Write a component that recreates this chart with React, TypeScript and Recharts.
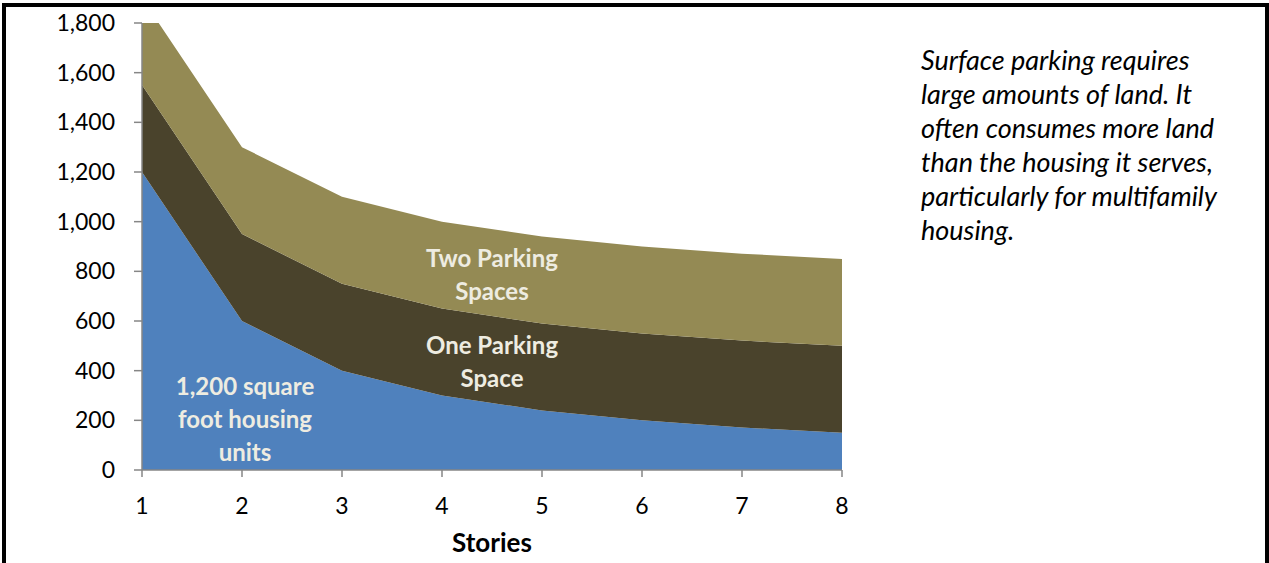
import { AreaChart, Area, XAxis, YAxis, ReferenceDot } from "recharts";

// land area per housing unit, by number of stories
const stories = [1, 2, 3, 4, 5, 6, 7, 8];
const housingUnit = [1200, 600, 400, 300, 240, 200, 171, 150];
const oneParking = [350, 350, 350, 350, 350, 350, 350, 350];
const twoParking = [350, 350, 350, 350, 350, 350, 350, 350];
const yTicks = [0, 200, 400, 600, 800, 1000, 1200, 1400, 1600, 1800];

const areaLabels = [
  { x: 4.5, y: 787, lines: ["Two Parking", "Spaces"] },
  { x: 4.5, y: 435, lines: ["One Parking", "Space"] },
  { x: 2.03, y: 205, lines: ["1,200 square", "foot housing", "units"] },
];

const noteLines = [
  "Surface parking requires",
  "large amounts of land. It",
  "often consumes more land",
  "than the housing it serves,",
  "particularly for multifamily",
  "housing.",
];

const data = stories.map((s, i) => ({
  stories: s,
  housing: housingUnit[i],
  one: oneParking[i],
  two: twoParking[i],
}));

const FONT = "Lato, 'Open Sans', sans-serif";
const AXIS = "#868686";

const MultiLine = (lines: string[]) => (props: any) => {
  const { viewBox } = props;
  const cx = viewBox.x + (viewBox.width || 0) / 2;
  const cy = viewBox.y + (viewBox.height || 0) / 2;
  const lh = 33;
  const top = cy - ((lines.length - 1) * lh) / 2;
  return (
    <text
      x={cx}
      textAnchor="middle"
      fill="#EEECE1"
      fontFamily={FONT}
      fontWeight={700}
      fontSize={24}
    >
      {lines.map((l, i) => (
        <tspan key={i} x={cx} y={top + i * lh} dy="0.36em">
          {l}
        </tspan>
      ))}
    </text>
  );
};

export default function App() {
  return (
    <div
      style={{
        position: "absolute",
        left: 0,
        top: 0,
        width: 1269,
        height: 563,
        overflow: "hidden",
        background: "#fff",
        fontFamily: FONT,
      }}
    >
      <div
        style={{
          position: "absolute",
          left: 2,
          top: 3,
          width: 1259,
          height: 600,
          borderLeft: "4px solid #000",
          borderTop: "4px solid #000",
          borderRight: "4px solid #000",
        }}
      />
      <div style={{ position: "absolute", left: 0, top: 0 }}>
        <AreaChart
          width={1269}
          height={563}
          data={data}
          margin={{ top: 23, right: 427, bottom: 0, left: 0 }}
        >
          <XAxis
            dataKey="stories"
            type="number"
            domain={[1, 8]}
            ticks={stories}
            height={93}
            stroke={AXIS}
            strokeWidth={1.5}
            tickSize={7}
            tickMargin={21}
            tick={{ fill: "#000", fontSize: 23, fontFamily: FONT }}
            label={{
              value: "Stories",
              position: "insideBottom",
              offset: 11,
              fill: "#000",
              fontSize: 26,
              fontWeight: 700,
              fontFamily: FONT,
            }}
          />
          <YAxis
            type="number"
            domain={[0, 1800]}
            ticks={yTicks}
            allowDataOverflow
            width={142}
            stroke={AXIS}
            strokeWidth={1.5}
            tickSize={8}
            tickMargin={19}
            tickFormatter={(v: number) => v.toLocaleString("en-US")}
            tick={{ fill: "#000", fontSize: 23, fontFamily: FONT }}
          />
          <Area
            type="linear"
            dataKey="housing"
            stackId="1"
            fill="#4F81BD"
            fillOpacity={1}
            stroke="none"
            isAnimationActive={false}
          />
          <Area
            type="linear"
            dataKey="one"
            stackId="1"
            fill="#4A432C"
            fillOpacity={1}
            stroke="none"
            isAnimationActive={false}
          />
          <Area
            type="linear"
            dataKey="two"
            stackId="1"
            fill="#948A54"
            fillOpacity={1}
            stroke="none"
            isAnimationActive={false}
          />
          {areaLabels.map((a, i) => (
            <ReferenceDot
              key={i}
              x={a.x}
              y={a.y}
              r={0}
              fill="none"
              stroke="none"
              label={{ content: MultiLine(a.lines) }}
            />
          ))}
        </AreaChart>
      </div>
      <div
        style={{
          position: "absolute",
          left: 921,
          top: 43,
          fontStyle: "italic",
          fontSize: 27,
          lineHeight: "34px",
          color: "#000",
          whiteSpace: "nowrap",
        }}
      >
        {noteLines.map((l, i) => (
          <div key={i}>{l}</div>
        ))}
      </div>
    </div>
  );
}
